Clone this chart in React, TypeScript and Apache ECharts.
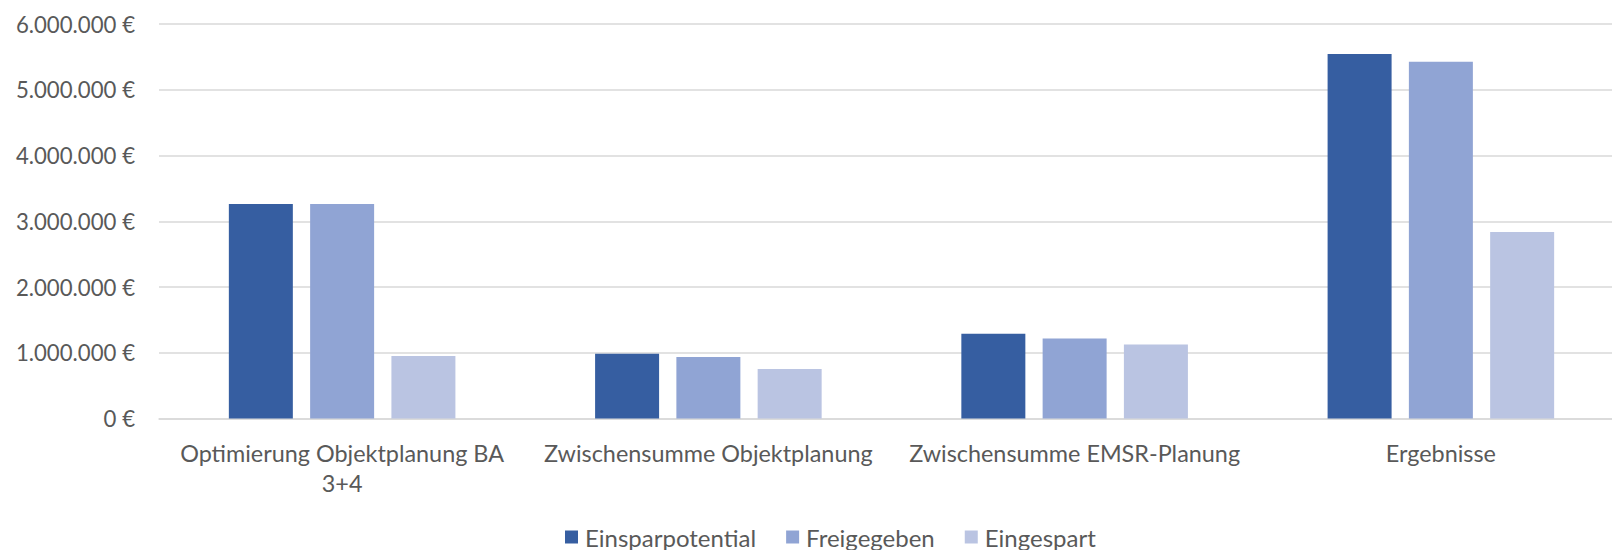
import React, { useEffect, useRef } from "react";
import * as echarts from "echarts";

const categories = [
  "Optimierung Objektplanung BA\n3+4",
  "Zwischensumme Objektplanung",
  "Zwischensumme EMSR-Planung",
  "Ergebnisse",
];
const seriesNames = ["Einsparpotential", "Freigegeben", "Eingespart"];
const einsparpotential = [3263000, 986000, 1288000, 5543000];
const freigegeben = [3263000, 935000, 1218000, 5427000];
const eingespart = [949000, 753000, 1125000, 2835000];
const seriesColors = ["#365EA1", "#90A4D4", "#BAC4E2"];

const fmt = (v: number) => {
  const s = Math.round(v).toString().replace(/\B(?=(\d{3})+(?!\d))/g, ".");
  return s + " €";
};

const FONT = "Lato";
const TEXT = "#595959";

export default function App() {
  const ref = useRef<HTMLDivElement>(null);
  useEffect(() => {
    if (!ref.current) return;
    const chart = echarts.init(ref.current, undefined, { renderer: "svg" });
    const values = [einsparpotential, freigegeben, eingespart];
    chart.setOption({
      animation: false,
      textStyle: { fontFamily: FONT },
      grid: { left: 159, right: 2, top: 24, bottom: 131.5, containLabel: false },
      legend: {
        left: 560,
        top: 520,
        itemWidth: 13,
        itemHeight: 13,
        itemGap: 30,
        icon: "rect",
        textStyle: { color: TEXT, fontSize: 24, fontFamily: FONT, padding: [0, 0, 0, 2] },
        data: seriesNames,
      },
      xAxis: {
        type: "category",
        data: categories,
        axisLine: { lineStyle: { color: "#d9d9d9", width: 1.5 } },
        axisTick: { show: false },
        axisLabel: {
          color: TEXT,
          fontSize: 23.4,
          fontFamily: FONT,
          lineHeight: 30,
          margin: 19,
          interval: 0,
          align: "center",
        },
      },
      yAxis: {
        type: "value",
        min: 0,
        max: 6000000,
        interval: 1000000,
        axisLine: { show: false },
        axisTick: { show: false },
        splitLine: { lineStyle: { color: "#d9d9d9", width: 1.5 } },
        axisLabel: {
          color: TEXT,
          fontSize: 22.2,
          fontFamily: FONT,
          margin: 24,
          formatter: (v: number) => fmt(v),
        },
      },
      series: seriesNames.map((name, i) => ({
        name,
        type: "bar",
        data: values[i],
        barWidth: 64,
        barGap: "27%",
        itemStyle: { color: seriesColors[i] },
      })),
    });
    return () => chart.dispose();
  }, []);
  return (
    <div style={{ position: "fixed", left: 0, top: 0, width: 1612, height: 550, overflow: "hidden", background: "#fff" }}>
      <div ref={ref} style={{ width: 1626, height: 550 }} />
    </div>
  );
}
